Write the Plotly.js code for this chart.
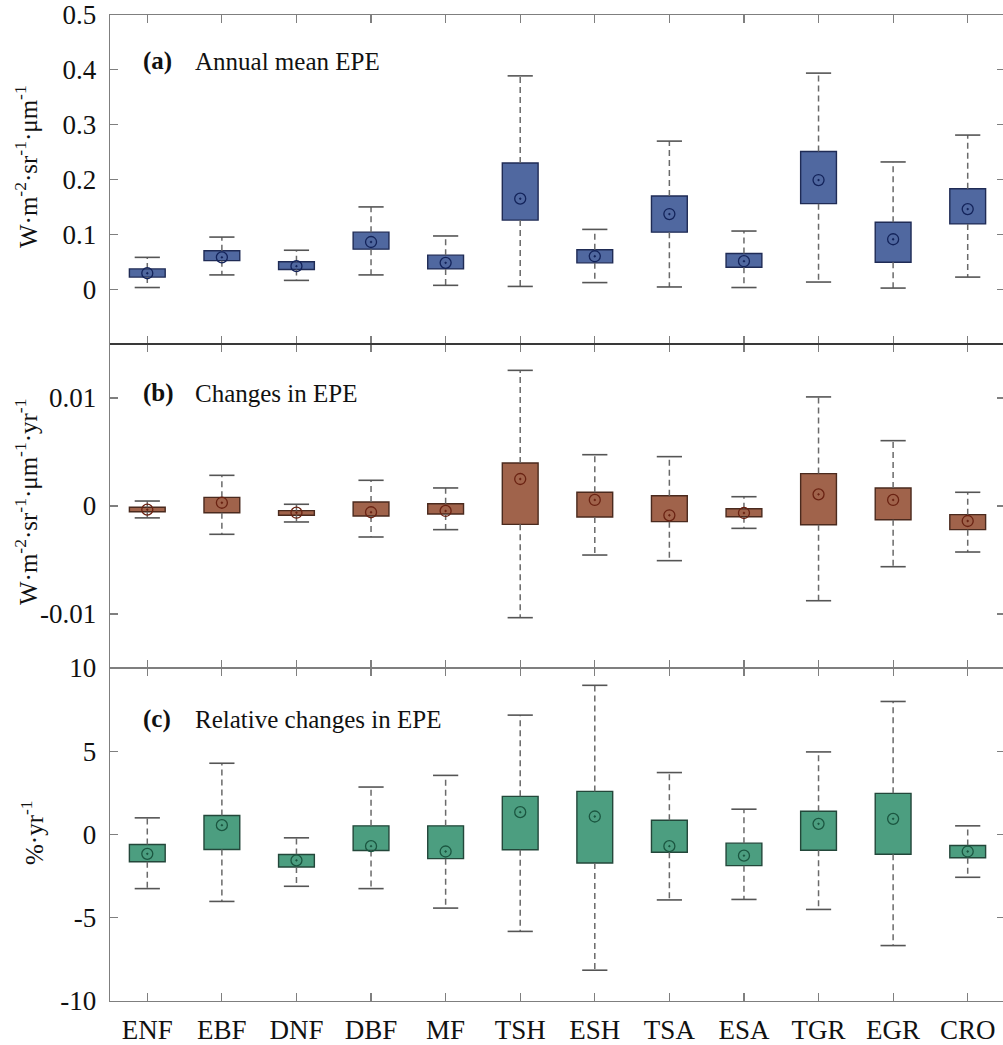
<!DOCTYPE html>
<html>
<head>
<meta charset="utf-8">
<script src="https://cdn.plot.ly/plotly-3.0.1.min.js"></script>
<style>
  html, body { margin: 0; padding: 0; overflow: hidden; background: #fff; }
  #chart { width: 1010px; height: 1045px; }
</style>
</head>
<body>
<div id="chart"></div>
<script>
// ---------- data ----------
const categories = ['ENF','EBF','DNF','DBF','MF','TSH','ESH','TSA','ESA','TGR','EGR','CRO'];

// (a) Annual mean EPE
const aLower  = [0.003, 0.026, 0.016, 0.026, 0.007, 0.005, 0.012, 0.004, 0.003, 0.013, 0.002, 0.022];
const aQ1     = [0.022, 0.052, 0.036, 0.073, 0.037, 0.126, 0.048, 0.104, 0.040, 0.156, 0.049, 0.119];
const aMedian = [0.029, 0.058, 0.042, 0.086, 0.048, 0.165, 0.060, 0.137, 0.051, 0.199, 0.091, 0.146];
const aQ3     = [0.037, 0.070, 0.050, 0.104, 0.062, 0.230, 0.072, 0.170, 0.065, 0.251, 0.122, 0.183];
const aUpper  = [0.058, 0.095, 0.071, 0.150, 0.097, 0.389, 0.109, 0.270, 0.106, 0.394, 0.232, 0.281];

// (b) Changes in EPE
const bLower  = [-0.0011, -0.00262, -0.00148, -0.00287, -0.00219, -0.01034, -0.00454, -0.00506, -0.00207, -0.00877, -0.00562, -0.00426];
const bQ1     = [-0.00053, -0.00062, -0.00086, -0.00093, -0.00074, -0.0017, -0.00102, -0.00145, -0.00099, -0.00173, -0.00127, -0.00219];
const bMedian = [-0.00034, 0.0003, -0.00062, -0.00058, -0.00046, 0.0025, 0.00056, -0.00086, -0.00065, 0.00108, 0.00056, -0.00139];
const bQ3     = [-0.00012, 0.0008, -0.00043, 0.00037, 0.00021, 0.00398, 0.00127, 0.00095, -0.00025, 0.003, 0.00167, -0.0008];
const bUpper  = [0.00046, 0.00284, 0.00016, 0.00238, 0.00167, 0.01256, 0.00475, 0.00457, 0.00086, 0.0101, 0.00605, 0.00127];

// (c) Relative changes in EPE
const cLower  = [-3.25, -4.02, -3.11, -3.25, -4.42, -5.82, -8.15, -3.93, -3.90, -4.50, -6.67, -2.57];
const cQ1     = [-1.64, -0.90, -1.95, -0.96, -1.45, -0.92, -1.71, -1.07, -1.87, -0.95, -1.19, -1.40];
const cMedian = [-1.16, 0.56, -1.55, -0.70, -1.02, 1.34, 1.08, -0.70, -1.27, 0.64, 0.94, -1.02];
const cQ3     = [-0.60, 1.14, -1.20, 0.52, 0.52, 2.29, 2.59, 0.86, -0.52, 1.40, 2.47, -0.66];
const cUpper  = [1.00, 4.28, -0.20, 2.85, 3.55, 7.17, 8.96, 3.72, 1.52, 4.96, 7.99, 0.52];

// tick values / labels
const aTickVals = [0, 0.1, 0.2, 0.3, 0.4, 0.5];
const aTickText = ['0', '0.1', '0.2', '0.3', '0.4', '0.5'];
const bTickVals = [-0.01, 0, 0.01];
const bTickText = ['-0.01', '0', '0.01'];
const cTickVals = [-10, -5, 0, 5, 10];
const cTickText = ['-10', '-5', '0', '5', '10'];

// ---------- styling ----------
const FONT = '"Liberation Serif", "Times New Roman", serif';
const AXIS_COLOR = '#7f7f7f';

function panelTraces(lower, q1, med, q3, upper, xa, ya, fill, edge, medColor) {
  const wx = [], wy = [];
  categories.forEach((c, i) => {
    wx.push(c, c, null, c, c, null);
    wy.push(q3[i], upper[i], null, q1[i], lower[i], null);
  });
  const whiskers = {
    type: 'scatter', mode: 'lines', x: wx, y: wy, xaxis: xa, yaxis: ya,
    line: { color: '#6a6a6a', width: 1.5, dash: '6px,4px' },
    hoverinfo: 'skip', showlegend: false, connectgaps: false
  };
  const caps = {
    type: 'scatter', mode: 'markers',
    x: categories.concat(categories), y: upper.concat(lower),
    xaxis: xa, yaxis: ya,
    marker: { symbol: 'line-ew', size: 18, line: { color: '#555', width: 1.6 } },
    hoverinfo: 'skip', showlegend: false
  };
  const boxes = {
    type: 'bar', x: categories, base: q1, y: q3.map((v, i) => v - q1[i]),
    xaxis: xa, yaxis: ya, width: 0.48,
    marker: { color: fill, line: { color: edge, width: 1.4 } },
    hoverinfo: 'skip', showlegend: false
  };
  const medians = {
    type: 'scatter', mode: 'markers', x: categories, y: med, xaxis: xa, yaxis: ya,
    marker: { symbol: 'circle-open-dot', size: 11, color: medColor, line: { color: medColor, width: 1.3 } },
    hoverinfo: 'skip', showlegend: false
  };
  return [whiskers, caps, boxes, medians];
}

const traces = [].concat(
  panelTraces(aLower, aQ1, aMedian, aQ3, aUpper, 'x3', 'y3', '#5068a0', '#1f2b55', '#13235a'),
  panelTraces(bLower, bQ1, bMedian, bQ3, bUpper, 'x2', 'y2', '#a0634b', '#4a2a1e', '#6a2212'),
  panelTraces(cLower, cQ1, cMedian, cQ3, cUpper, 'x', 'y', '#4c9e80', '#23473a', '#1b5640')
);

// plot area: x 110..1005 px, y 15..1001 px
const L = 110, R = 1005, T = 15, B = 1001;
const px2x = px => (px - L) / (R - L);
const py2y = py => (B - py) / (B - T);
const domA = [py2y(344), 1];
const domB = [py2y(668), py2y(344)];
const domC = [0, py2y(668)];

const TICKFONT = { family: FONT, size: 27, color: '#111' };

function xAxis(anchor, showLabels) {
  return {
    type: 'category', categoryorder: 'array', categoryarray: categories,
    range: [-0.5, 11.5], anchor: anchor,
    showline: true, linecolor: AXIS_COLOR, linewidth: 1.3, mirror: 'ticks',
    ticks: 'inside', ticklen: 8, tickwidth: 1.2, tickcolor: AXIS_COLOR,
    showgrid: false, zeroline: false, showticklabels: showLabels,
    tickfont: TICKFONT, ticklabelstandoff: 4, fixedrange: true
  };
}
function yAxis(anchor, dom, range, tv, tt) {
  return {
    domain: dom, range: range, anchor: anchor,
    tickmode: 'array', tickvals: tv, ticktext: tt,
    showline: true, linecolor: AXIS_COLOR, linewidth: 1.3, mirror: 'ticks',
    ticks: 'inside', ticklen: 8, tickwidth: 1.2, tickcolor: AXIS_COLOR,
    showgrid: false, zeroline: false,
    tickfont: TICKFONT, ticklabelstandoff: 7, fixedrange: true
  };
}

const annFont = { family: FONT, size: 25, color: '#111' };
function label(letter, text, py) {
  return [
    { xref: 'paper', yref: 'paper', x: px2x(141), y: py2y(py), xanchor: 'left', yanchor: 'middle',
      text: '<b>' + letter + '</b>', showarrow: false, font: annFont },
    { xref: 'paper', yref: 'paper', x: px2x(193), y: py2y(py), xanchor: 'left', yanchor: 'middle',
      text: text, showarrow: false, font: annFont }
  ];
}
function yTitle(text, px, py) {
  return { xref: 'paper', yref: 'paper', x: px2x(px), y: py2y(py), xanchor: 'center', yanchor: 'middle',
    textangle: -90, text: text, showarrow: false, font: { family: FONT, size: 25, color: '#111' } };
}

const layout = {
  width: 1010, height: 1045,
  margin: { l: L, r: 1010 - R, t: T, b: 1045 - B },
  paper_bgcolor: '#fff', plot_bgcolor: '#fff',
  showlegend: false, barmode: 'overlay',
  xaxis: xAxis('y', true),
  xaxis2: Object.assign(xAxis('y2', false), { matches: 'x' }),
  xaxis3: Object.assign(xAxis('y3', false), { matches: 'x' }),
  yaxis: yAxis('x', domC, [-10, 10], cTickVals, cTickText),
  yaxis2: yAxis('x2', domB, [-0.015, 0.015], bTickVals, bTickText),
  yaxis3: yAxis('x3', domA, [-0.1, 0.5], aTickVals, aTickText),
  annotations: [].concat(
    label('(a)', 'Annual mean EPE', 61),
    label('(b)', 'Changes in EPE', 393),
    label('(c)', 'Relative changes in EPE', 719),
    [
      yTitle('W·m<sup>-2</sup>·sr<sup>-1</sup>·μm<sup>-1</sup>', 26, 167),
      yTitle('W·m<sup>-2</sup>·sr<sup>-1</sup>·μm<sup>-1</sup>·yr<sup>-1</sup>', 26, 502),
      yTitle('%·yr<sup>-1</sup>', 32, 833)
    ]
  ),
  shapes: [
    { type: 'line', xref: 'paper', yref: 'paper', x0: 0, x1: 1, y0: domA[0], y1: domA[0],
      line: { color: '#222', width: 1.4 } }
  ]
};

Plotly.newPlot('chart', traces, layout, { displayModeBar: false, staticPlot: true });
</script>
</body>
</html>
